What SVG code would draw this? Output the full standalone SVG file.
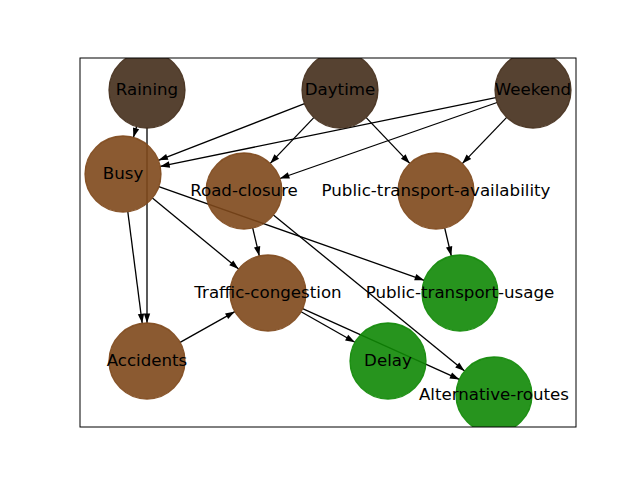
<svg xmlns="http://www.w3.org/2000/svg" width="640" height="480" viewBox="0 0 640 480">
<style>
.e{stroke:#000;stroke-width:1.3;fill:none;marker-end:url(#ah)}
.n1{fill:#442d1b;stroke:#442d1b;fill-opacity:0.9;stroke-opacity:0.9;stroke-width:1.3}
.n2{fill:#7e481b;stroke:#7e481b;fill-opacity:0.9;stroke-opacity:0.9;stroke-width:1.3}
.n3{fill:#108805;stroke:#108805;fill-opacity:0.9;stroke-opacity:0.9;stroke-width:1.3}
text{font-family:"DejaVu Sans",sans-serif;font-size:16.67px;text-anchor:middle;fill:#000}
</style>
<defs>
<clipPath id="ax"><rect x="80" y="58" width="496" height="369"/></clipPath>
<marker id="ah" markerUnits="userSpaceOnUse" markerWidth="12" markerHeight="10" viewBox="0 0 12 10" refX="10" refY="5" orient="auto">
<path d="M0.5,1.8 L10,5 L0.5,8.2 Z" fill="#000"/>
</marker>
</defs>
<rect x="0" y="0" width="640" height="480" fill="#fff"/>
<g id="edges" clip-path="url(#ax)">
<line class="e" x1="136.6" y1="126.5" x2="133.4" y2="137.5"/>
<line class="e" x1="147" y1="128" x2="147" y2="323"/>
<line class="e" x1="304.6" y1="103.7" x2="158.4" y2="160.3"/>
<line class="e" x1="313.8" y1="117.6" x2="270.2" y2="163.4"/>
<line class="e" x1="366.2" y1="117.6" x2="409.8" y2="163.4"/>
<line class="e" x1="495.8" y1="97.6" x2="160.2" y2="166.4"/>
<line class="e" x1="497.1" y1="102.5" x2="279.9" y2="178.5"/>
<line class="e" x1="506.7" y1="117.4" x2="462.3" y2="163.6"/>
<line class="e" x1="127.8" y1="211.7" x2="142.2" y2="323.3"/>
<line class="e" x1="152.4" y1="198.1" x2="238.6" y2="268.9"/>
<line class="e" x1="158.8" y1="186.7" x2="424.2" y2="280.3"/>
<line class="e" x1="252.7" y1="228.0" x2="259.3" y2="256.0"/>
<line class="e" x1="273.4" y1="215.0" x2="464.6" y2="371.0"/>
<line class="e" x1="444.7" y1="228.0" x2="451.3" y2="256.0"/>
<line class="e" x1="180.1" y1="342.4" x2="234.9" y2="311.6"/>
<line class="e" x1="301.1" y1="311.7" x2="354.9" y2="342.3"/>
<line class="e" x1="302.6" y1="308.6" x2="459.4" y2="379.4"/>
</g>
<g clip-path="url(#ax)">
<circle class="n1" cx="147" cy="90" r="38"/>
<circle class="n1" cx="340" cy="90" r="38"/>
<circle class="n1" cx="533" cy="90" r="38"/>
<circle class="n2" cx="123" cy="174" r="38"/>
<circle class="n2" cx="244" cy="191" r="38"/>
<circle class="n2" cx="436" cy="191" r="38"/>
<circle class="n2" cx="268" cy="293" r="38"/>
<circle class="n3" cx="460" cy="293" r="38"/>
<circle class="n2" cx="147" cy="361" r="38"/>
<circle class="n3" cx="388" cy="361" r="38"/>
<circle class="n3" cx="494" cy="395" r="38"/>
</g>
<rect x="80" y="58" width="496" height="369" fill="none" stroke="#000" stroke-width="1"/>
<g id="Raining"><text x="147" y="95">Raining</text></g>
<g id="Daytime"><text x="340" y="95">Daytime</text></g>
<g id="Weekend"><text x="533" y="95">Weekend</text></g>
<g id="Busy"><text x="123" y="179">Busy</text></g>
<g id="Road-closure"><text x="244" y="196">Road-closure</text></g>
<g id="Public-transport-availability"><text x="436" y="196">Public-transport-availability</text></g>
<g id="Traffic-congestion"><text x="268" y="298">Traffic-congestion</text></g>
<g id="Public-transport-usage"><text x="460" y="298">Public-transport-usage</text></g>
<g id="Accidents"><text x="147" y="366">Accidents</text></g>
<g id="Delay"><text x="388" y="366">Delay</text></g>
<g id="Alternative-routes"><text x="494" y="400">Alternative-routes</text></g>
</svg>
